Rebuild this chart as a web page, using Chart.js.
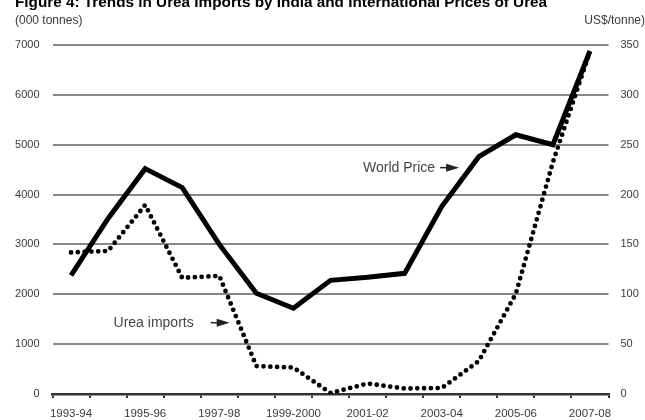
<!DOCTYPE html>
<html>
<head>
<meta charset="utf-8">
<script src="https://cdn.jsdelivr.net/npm/chart.js@4/dist/chart.umd.min.js"></script>
<style>
  body { margin: 0; background: #fff; }
  canvas { display: block; }
</style>
</head>
<body>
<canvas id="chart" width="645" height="420"></canvas>
<script>
const years = [
  "1993-94", "1994-95", "1995-96", "1996-97", "1997-98", "1998-99", "1999-2000",
  "2000-01", "2001-02", "2002-03", "2003-04", "2004-05", "2005-06", "2006-07", "2007-08",
];
// urea imports, 000 tonnes (left axis)
const ureaImports = [2840, 2870, 3790, 2330, 2370, 560, 530, 20, 210, 110, 120, 660, 2010, 4650, 6870];
// world price, US$/tonne (right axis)
const worldPrice = [119, 176, 226, 207, 150, 101, 86, 114, 117, 121, 188, 238, 260, 250, 344];

const leftTicks = { min: 0, max: 7000, step: 1000 };
const rightTicks = { min: 0, max: 350, step: 50 };

const titleText = "Figure 4: Trends in Urea Imports by India and International Prices of Urea";
const leftUnit = "(000 tonnes)";
const rightUnit = "US$/tonne)";

const FONT = "'Liberation Sans', Arial, sans-serif";
const TEXT = "#3a3a3a";

function arrowLabel(ctx, text, tipX, y, textRight) {
  ctx.fillStyle = "#444";
  ctx.font = "14px " + FONT;
  ctx.textAlign = "right";
  ctx.textBaseline = "middle";
  ctx.fillText(text, textRight, y);
  ctx.strokeStyle = "#222";
  ctx.lineWidth = 1.5;
  ctx.beginPath();
  ctx.moveTo(tipX - 19, y);
  ctx.lineTo(tipX - 8, y);
  ctx.stroke();
  ctx.fillStyle = "#222";
  ctx.beginPath();
  ctx.moveTo(tipX, y);
  ctx.lineTo(tipX - 13, y - 4);
  ctx.lineTo(tipX - 13, y + 4);
  ctx.closePath();
  ctx.fill();
}

const extras = {
  id: "extras",
  afterDraw(chart) {
    const ctx = chart.ctx;
    const x = chart.scales.x;
    const y = chart.scales.y;
    const y1 = chart.scales.y1;
    ctx.save();
    ctx.fillStyle = "#000";
    ctx.font = "bold 15.3px " + FONT;
    ctx.textAlign = "left";
    ctx.textBaseline = "alphabetic";
    ctx.fillText(titleText, 15, 7);

    ctx.fillStyle = TEXT;
    ctx.font = "12px " + FONT;
    ctx.textBaseline = "middle";
    ctx.fillText(leftUnit, 15, 21);
    ctx.textAlign = "right";
    ctx.fillText(rightUnit, 645, 21);

    // arrows point at the lines
    const wpY = y1.getPixelForValue(227);
    const wpTip = x.getPixelForValue(10.47);
    arrowLabel(ctx, "World Price", wpTip, wpY, wpTip - 24);
    const uiY = y.getPixelForValue(1430);
    const uiTip = x.getPixelForValue(4.28);
    arrowLabel(ctx, "Urea imports", uiTip, uiY, uiTip - 36);
    ctx.restore();
  },
};

new Chart(document.getElementById("chart"), {
  type: "line",
  data: {
    labels: years,
    datasets: [
      {
        label: "Urea imports",
        data: ureaImports,
        yAxisID: "y",
        borderColor: "#000",
        borderWidth: 4.8,
        borderDash: [0, 6.8],
        borderCapStyle: "round",
        pointRadius: 0,
        tension: 0,
        fill: false,
      },
      {
        label: "World Price",
        data: worldPrice,
        yAxisID: "y1",
        borderColor: "#000",
        borderWidth: 5,
        borderJoinStyle: "miter",
        pointRadius: 0,
        tension: 0,
        fill: false,
      },
    ],
  },
  options: {
    responsive: false,
    animation: false,
    devicePixelRatio: 1,
    layout: { padding: { top: 45, left: 0, right: 0, bottom: 0 } },
    plugins: { legend: { display: false }, tooltip: { enabled: false } },
    scales: {
      x: {
        offset: true,
        grid: {
          offset: true,
          drawOnChartArea: false,
          drawTicks: true,
          tickLength: 4,
          color: "#333",
          lineWidth: 2,
        },
        border: { display: true, color: "#333", width: 2.5 },
        ticks: {
          autoSkip: false,
          maxRotation: 0,
          padding: 9,
          color: TEXT,
          font: { family: FONT, size: 11.5 },
          callback: (v, i) => (i % 2 === 0 ? years[i] : ""),
        },
        afterFit: (s) => { s.height = 26; },
      },
      y: {
        position: "left",
        min: leftTicks.min,
        max: leftTicks.max,
        ticks: {
          stepSize: leftTicks.step,
          padding: 13,
          color: TEXT,
          font: { family: FONT, size: 11 },
          callback: (v) => String(v),
        },
        grid: {
          drawTicks: false,
          color: (c) => (c.tick && c.tick.value === 0 ? "rgba(0,0,0,0)" : "#888"),
          lineWidth: 2,
        },
        border: { display: false },
        afterFit: (s) => { s.width = 52.5; },
      },
      y1: {
        position: "right",
        min: rightTicks.min,
        max: rightTicks.max,
        ticks: {
          stepSize: rightTicks.step,
          padding: 12,
          color: TEXT,
          font: { family: FONT, size: 11 },
          callback: (v) => String(v),
        },
        grid: { display: false, drawTicks: false },
        border: { display: false },
        afterFit: (s) => { s.width = 36.5; },
      },
    },
  },
  plugins: [extras],
});
</script>
</body>
</html>
